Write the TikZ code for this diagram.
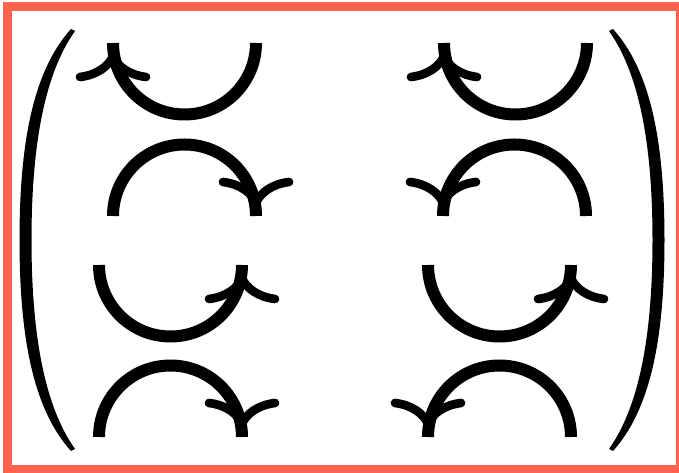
\documentclass[tikz,border=0pt]{standalone}
\usepackage{tikz}
\definecolor{framecol}{RGB}{255,100,78}
\begin{document}
\begin{tikzpicture}[x=0.75pt,y=-0.75pt,arc line/.style={line width=9pt},barb line/.style={line width=6.5pt,line cap=round,line join=round}]
	\useasboundingbox (0,0) rectangle (679,473);
	\fill[framecol] (3,2) rectangle (679,473);
	\fill[white] (12,11) rectangle (676,465);
	% parentheses, the right one mirrored
	\foreach \m/\o in {1/0,-1/684} \fill[shift={(\o,0)},xscale=\m] (71,29) .. controls (34,70) and (19.5,140) .. (19.5,240) .. controls (19.5,340) and (34,410) .. (71,451) -- (75,449) .. controls (46,408) and (31.5,340) .. (31.5,240) .. controls (31.5,140) and (46,72) .. (75,31) -- cycle;
	% left end x / end y / cup (1) or cap (-1) / head at left (0) or right (1)
	\foreach \x/\y/\s/\a in {113/43/1/0,444/43/1/0,113/216/-1/1,443/216/-1/0,99/265/1/1,428/265/1/1,99/437/-1/1,428/437/-1/0} {
		\draw[arc line] (\x,\y) arc[start angle=180,end angle={180-180*(\s)},radius=71.5];
		\draw[barb line,shift={(\x+143*\a,\y+13*(\s))},yscale=\s] (-33,21) .. controls (-16,19) and (-4,10) .. (0,0) .. controls (4,10) and (16,19) .. (33,21);
	}
\end{tikzpicture}
\end{document}
